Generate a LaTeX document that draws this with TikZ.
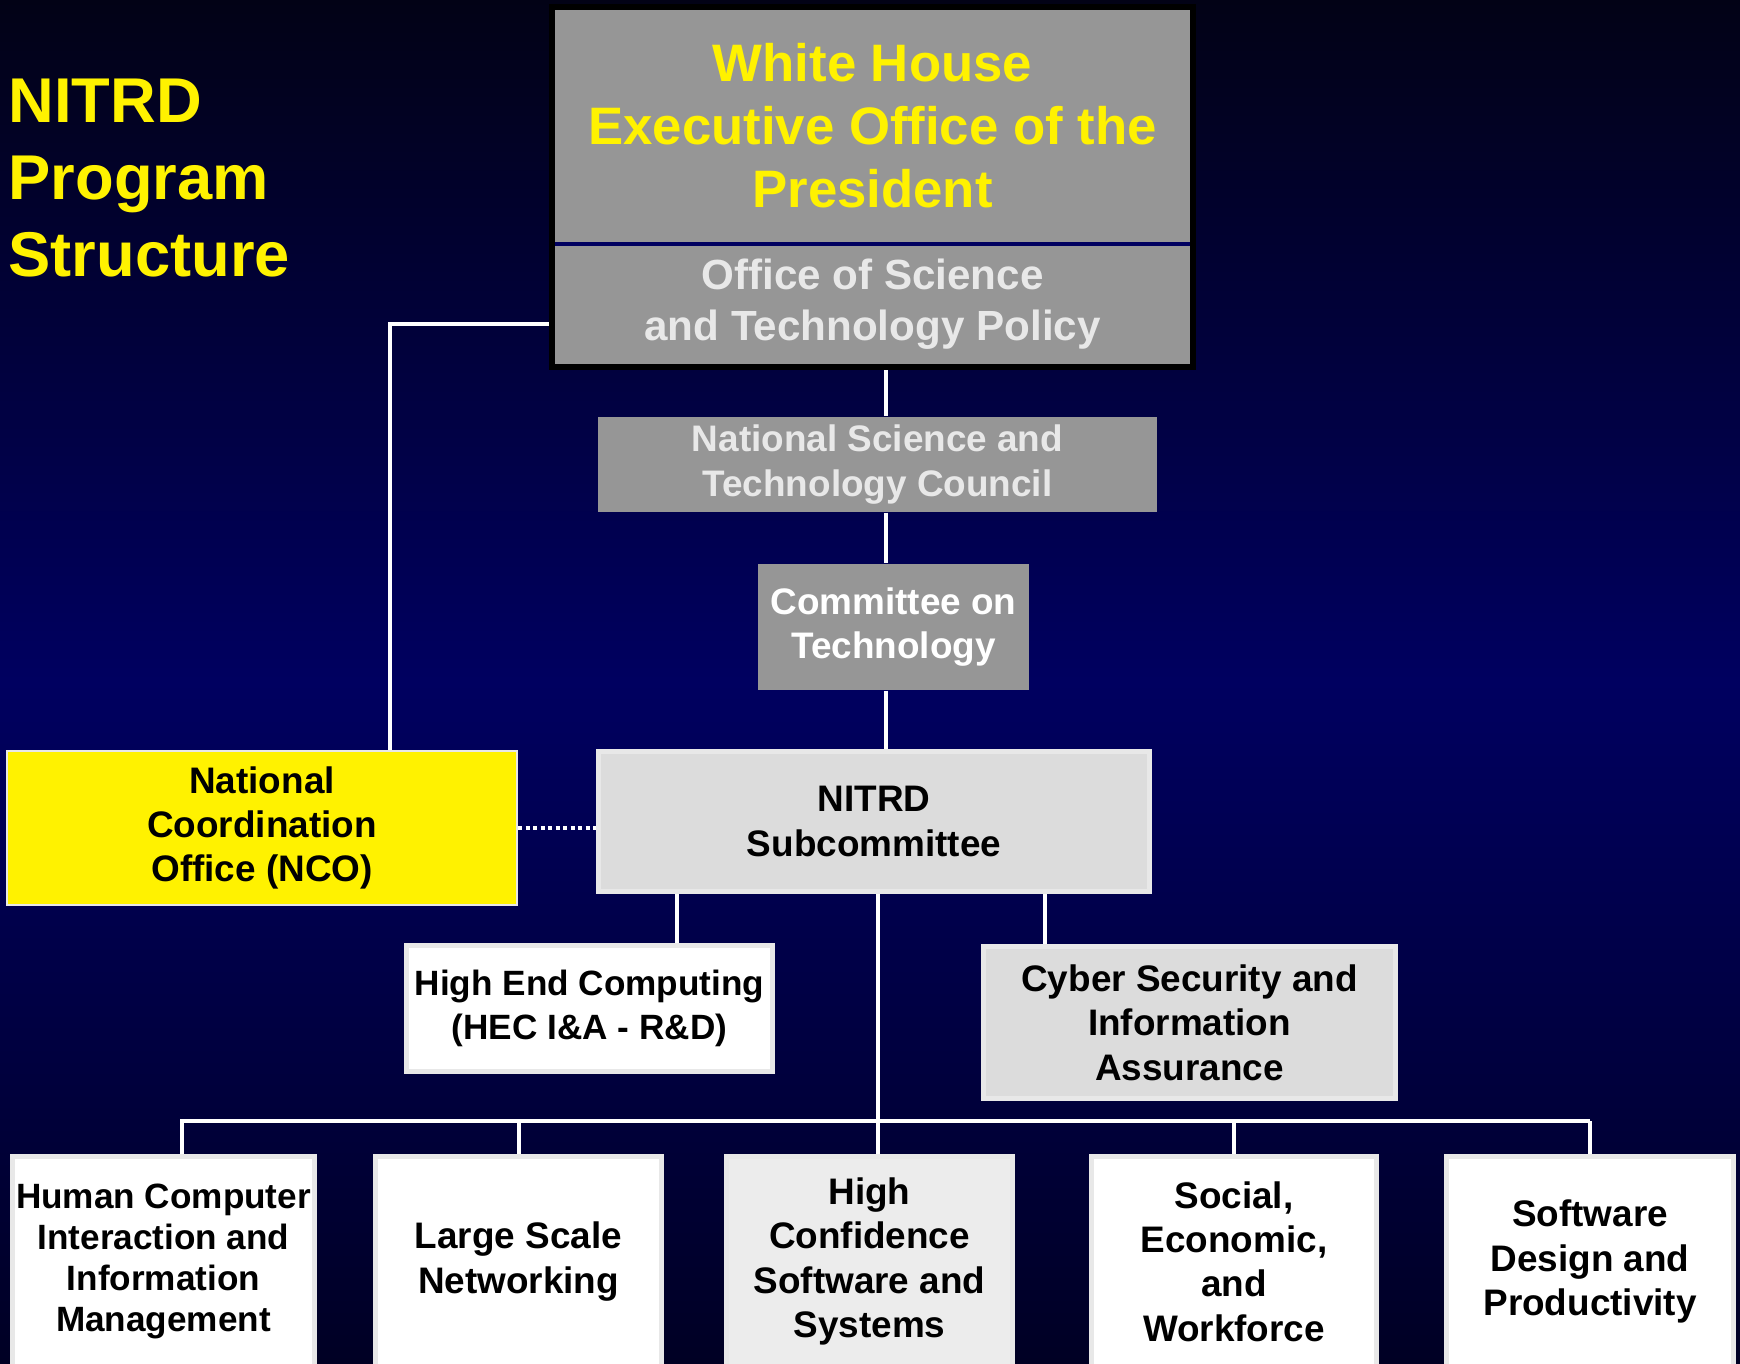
\documentclass[tikz,border=0pt]{standalone}
\usepackage{fontspec}
\setmainfont{Liberation Sans}

\definecolor{navy}{RGB}{0,0,96}
\definecolor{topnavy}{RGB}{2,2,22}
\definecolor{lownavy}{RGB}{0,0,36}
\definecolor{boxgray}{RGB}{150,150,150}
\definecolor{palegray}{RGB}{220,220,220}
\definecolor{edgegray}{RGB}{232,232,232}
\definecolor{textgray}{RGB}{232,232,232}
\definecolor{hcssgray}{RGB}{236,236,236}

\newcommand{\titlefont}{\fontsize{18pt}{22pt}\selectfont\bfseries}
\newcommand{\whfont}{\fontsize{15pt}{18pt}\selectfont\bfseries}
\newcommand{\ostpfont}{\fontsize{12pt}{14.5pt}\selectfont\bfseries}
\newcommand{\boxfont}{\fontsize{10.5pt}{12.6pt}\selectfont\bfseries}
\newcommand{\smallboxfont}{\fontsize{10pt}{11.7pt}\selectfont\bfseries}

\begin{document}
\begin{tikzpicture}[x=0.1mm, y=-0.1mm,
box/.style={rectangle, align=center, inner sep=0pt, font=\boxfont},
graybox/.style={box, fill=boxgray},
palebox/.style={box, fill=palegray, draw=edgegray, line width=0.5mm},
whitebox/.style={box, fill=white, draw=edgegray, line width=0.5mm},
link/.style={draw=white, line width=0.4mm}
]
        \useasboundingbox (0,0) rectangle (1740,1363);
        \shade[top color=topnavy, bottom color=lownavy, middle color=navy] (0,0) rectangle (1740,1363);

        \node [align=left, inner sep=0pt, anchor=west, text=yellow, font=\titlefont] (title) at (8,178) {NITRD\\Program\\Structure};

        % top of the tree
        \node [graybox, minimum width=63.9mm, minimum height=23.5mm, font=\whfont, text=yellow] (wh) at (872.5,125.5) {White House\\Executive Office of the\\President};
        \node [graybox, minimum width=63.9mm, minimum height=12.3mm, font=\ostpfont, text=textgray] (ostp) at (872.5,304.5) {Office of Science\\and Technology Policy};
        \node [graybox, minimum width=55.9mm, minimum height=9.5mm, text=textgray] (nstc) at (877.5,464.5) {National Science and\\Technology Council};
        \node [graybox, minimum width=27.1mm, minimum height=12.6mm, text=white] (cot) at (893.5,627) {Committee on\\Technology};

        \node [palebox, minimum width=55.1mm, minimum height=14.0mm] (nitrd) at (874,821.5) {NITRD\\Subcommittee};
        \node [box, fill=yellow, draw=edgegray, line width=0.2mm, minimum width=51.0mm, minimum height=15.4mm] (nco) at (262,828) {National\\Coordination\\Office (NCO)};

        \node [whitebox, minimum width=36.6mm, minimum height=12.6mm, font=\fontsize{10pt}{12.6pt}\selectfont\bfseries] (hec) at (589.5,1008.5) {High End Computing\\(HEC I\&A - R\&D)};
        \node [palebox, minimum width=41.2mm, minimum height=15.2mm] (csia) at (1189.5,1022.5) {Cyber Security and\\Information\\Assurance};

        % program component areas
        \node [whitebox, minimum width=30.2mm, minimum height=21mm, font=\smallboxfont] (hci) at (163.5,1261.5) {Human Computer\\Interaction and\\Information\\Management};
        \node [whitebox, minimum width=28.6mm, minimum height=21mm] (lsn) at (518.5,1261.5) {Large Scale\\Networking};
        \node [whitebox, fill=hcssgray, minimum width=28.6mm, minimum height=21mm] (hcss) at (869.5,1261.5) {High\\Confidence\\Software and\\Systems};
        \node [whitebox, minimum width=28.5mm, minimum height=21mm] (sew) at (1234,1261.5) {Social,\\Economic,\\and\\Workforce};
        \node [whitebox, minimum width=28.7mm, minimum height=21mm] (sdp) at (1590,1261.5) {Software\\Design and\\Productivity};

        \coordinate (spine) at (886,0);
        \coordinate (midline) at (878,0);
        \coordinate (heclink) at (677,0);
        \coordinate (csialink) at (1045,0);
        \coordinate (ncobend) at (390,324);
        \coordinate (hcidrop) at (182,1121);

        \draw [link] (ostp.south -| spine) -- (nstc.north -| spine);
        \draw [link] (nstc.south -| spine) -- (cot.north -| spine);
        \draw [link] (cot.south -| spine) -- (nitrd.north -| spine);
        \draw [link] (ostp.west |- ncobend) -- (ncobend) -- (ncobend |- nco.north);
        \draw [link, dash pattern=on 0.4mm off 0.35mm] (nco.east) -- (nco.east -| nitrd.west);

        \draw [link] (nitrd.south -| heclink) -- (hec.north -| heclink);
        \draw [link] (nitrd.south -| csialink) -- (csia.north -| csialink);
        \draw [link] (nitrd.south -| midline) -- (hcss.north -| midline);
        \draw [link] (hcidrop -| sdp.north) -- (hcidrop) -- (hcidrop |- hci.north);
        \foreach \b in {lsn,sew,sdp}
            \draw [link] (hcidrop -| \b.north) -- (\b.north);

        % frame and divider of the top box
        \draw [navy, line width=0.4mm] (wh.south west) -- (wh.south east);
        \draw [black, line width=0.6mm] (wh.north west) rectangle (ostp.south east);
\end{tikzpicture}
\end{document}
